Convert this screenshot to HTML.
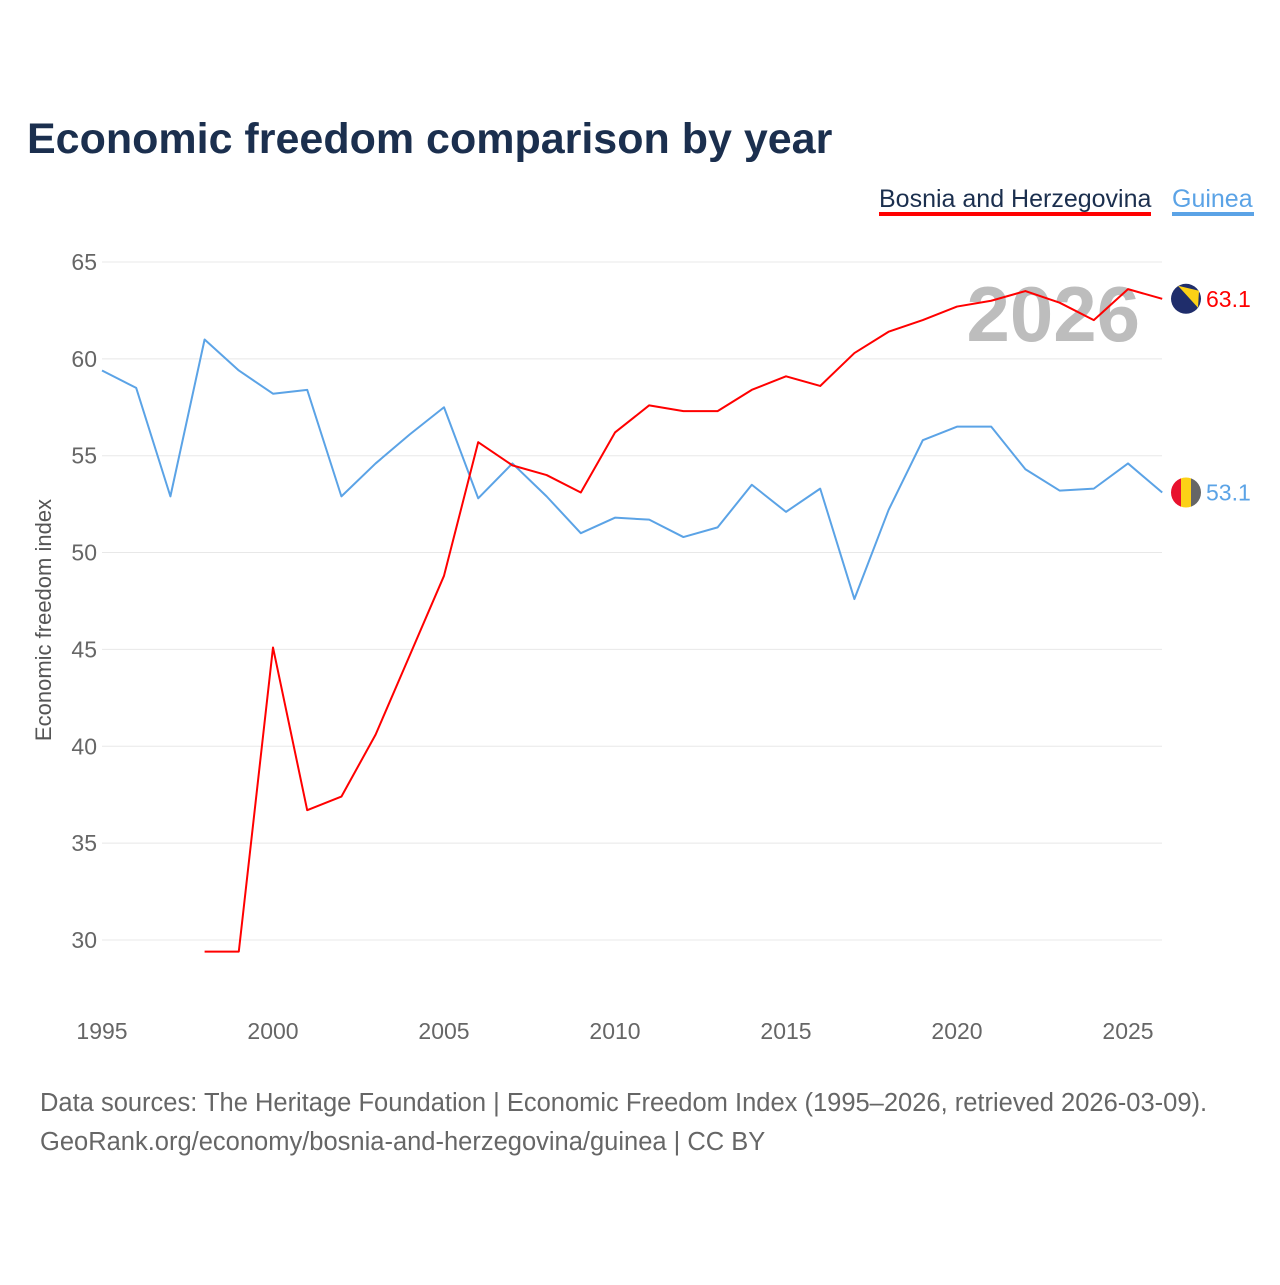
<!DOCTYPE html>
<html><head><meta charset="utf-8"><style>
body{margin:0;background:#fff;font-family:"Liberation Sans",sans-serif;}
svg text{font-family:"Liberation Sans",sans-serif;}
</style></head><body>
<svg id="chart" width="1280" height="1280">
<defs><clipPath id="cg"><circle cx="1186" cy="492" r="15"></circle></clipPath></defs>
<text x="27" y="153" font-size="43" font-weight="bold" fill="#1b2f4e">Economic freedom comparison by year</text>
<g>
<text x="879" y="207" font-size="25" fill="#1b2f4e">Bosnia and Herzegovina</text>
<rect x="879" y="212" width="272" height="4" fill="#ff0000"></rect>
<text x="1172" y="207" font-size="25" fill="#5ba3e6">Guinea</text>
<rect x="1172" y="212" width="82" height="4" fill="#5ba3e6"></rect>
</g>
<text x="1140" y="341" font-size="78" font-weight="bold" fill="#bdbdbd" text-anchor="end">2026</text>
<g id="grid"></g>
<g id="axes"></g>
<g id="series"></g>
<text transform="translate(51,620) rotate(-90)" font-size="22" fill="#555" text-anchor="middle">Economic freedom index</text>
<text x="40" y="1111" font-size="25.5" fill="#666">Data sources: The Heritage Foundation | Economic Freedom Index (1995–2026, retrieved 2026-03-09).</text>
<text x="40" y="1150" font-size="25.5" fill="#666">GeoRank.org/economy/bosnia-and-herzegovina/guinea | CC BY</text>
</svg>
<script>
const years=[1995,1996,1997,1998,1999,2000,2001,2002,2003,2004,2005,2006,2007,2008,2009,2010,2011,2012,2013,2014,2015,2016,2017,2018,2019,2020,2021,2022,2023,2024,2025,2026];
const guinea=[59.4,58.5,52.9,61.0,59.4,58.2,58.4,52.9,54.6,56.1,57.5,52.8,54.6,52.9,51.0,51.8,51.7,50.8,51.3,53.5,52.1,53.3,47.6,52.2,55.8,56.5,56.5,54.3,53.2,53.3,54.6,53.1];
const bosnia=[null,null,null,29.4,29.4,45.1,36.7,37.4,40.6,44.7,48.8,55.7,54.5,54.0,53.1,56.2,57.6,57.3,57.3,58.4,59.1,58.6,60.3,61.4,62.0,62.7,63.0,63.5,62.9,62.0,63.6,63.1];
const yTicks=[30,35,40,45,50,55,60,65];
const xTicks=[1995,2000,2005,2010,2015,2020,2025];
const NS="http://www.w3.org/2000/svg";
const X=y=>102+(y-1995)*34.2;
const Y=v=>262+(65-v)*19.37;
function mk(tag,attrs,parent){const e=document.createElementNS(NS,tag);for(const k in attrs)e.setAttribute(k,attrs[k]);parent.appendChild(e);return e;}
const grid=document.getElementById('grid'),axes=document.getElementById('axes'),ser=document.getElementById('series');
yTicks.forEach(t=>{
 const l=mk('line',{x1:102,x2:1162,y1:Y(t),y2:Y(t),stroke:'#e8e8e8','stroke-width':1},grid);
 
 
 const tx=mk('text',{x:97,y:Y(t)+8,'font-size':23,fill:'#666','text-anchor':'end'},axes);
 tx.textContent=t;
 
 
});
xTicks.forEach(t=>{
 const tx=mk('text',{x:X(t),y:1039,'font-size':23,fill:'#666','text-anchor':'middle'},axes);
 tx.textContent=t;
 
 
});
function line(vals,color,name){
 let d='';let pen=false;
 vals.forEach((v,i)=>{if(v==null){pen=false;return;}d+=(pen?'L':'M')+X(years[i])+' '+Y(v)+' ';pen=true;});
 const p=mk('path',{d:d,fill:'none',stroke:color,'stroke-width':2,'stroke-linejoin':'round'},ser);
 
 
}
line(guinea,'#5ba3e6','guinea-line');
line(bosnia,'#ff0000','bosnia-line');
function endLabel(vals,color,name,flag){
 const v=vals[vals.length-1];const cy=Y(v);
 const g=mk('g',{},ser);
 
 
 if(flag==='ba'){
  mk('circle',{cx:1186,cy:cy,r:15,fill:'#1f2d6b'},g);
  mk('path',{d:`M1178 ${cy-13} L1199 ${cy-8} L1198 ${cy+9} Z`,fill:'#fcd116'},g);
 }else{
  document.querySelector('#cg circle').setAttribute('cy',cy);
  const c=mk('g',{'clip-path':'url(#cg)'},g);
  mk('rect',{x:1171,y:cy-15,width:10,height:30,fill:'#e8112d'},c);
  mk('rect',{x:1181,y:cy-15,width:10,height:30,fill:'#fcd116'},c);
  mk('rect',{x:1191,y:cy-15,width:10,height:30,fill:'#666'},c);
 }
 const t=mk('text',{x:1206,y:cy+8,'font-size':23,fill:color},ser);
 t.textContent=v.toFixed(1);
 
 
}
endLabel(bosnia,'#ff0000','bosnia','ba');
endLabel(guinea,'#5ba3e6','guinea','gn');
</script>
</body></html>
